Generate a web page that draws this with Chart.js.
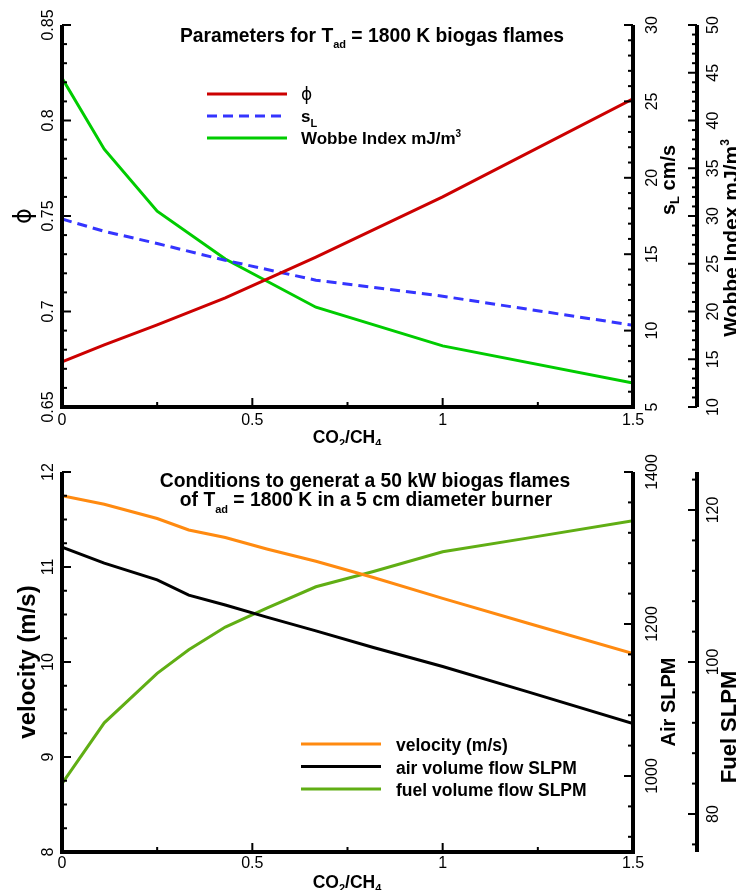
<!DOCTYPE html>
<html>
<head>
<meta charset="utf-8">
<title>Biogas flame parameters</title>
<script src="https://cdn.jsdelivr.net/npm/chart.js@4"></script>
<style>
  html, body { margin: 0; padding: 0; background: #fff; }
  #wrap { position: relative; width: 736px; height: 890px; overflow: hidden; background: #fff; }
  .panel { position: absolute; left: 0; width: 736px; height: 445px; }
</style>
</head>
<body>
<div id="wrap">
  <div class="panel" style="top:0"><canvas id="topPanel" width="736" height="445"></canvas></div>
  <div class="panel" style="top:445px"><canvas id="bottomPanel" width="736" height="445"></canvas></div>
</div>
<script>
// ---- flame parameters at Tad = 1800 K versus CO2/CH4 ratio ----
const ratioTop = [0, 0.111, 0.25, 0.429, 0.667, 1, 1.5];
const phiValues = [0.6736, 0.6825, 0.693, 0.7071, 0.7285, 0.760, 0.8113];
const slValues = [17.3, 16.5, 15.7, 14.6, 13.3, 12.25, 10.35];
const wobbeValues = [44.45, 37.0, 30.5, 25.5, 20.45, 16.4, 12.5];

// ---- 50 kW burner operating conditions versus CO2/CH4 ratio ----
const ratioBottom = [0, 0.111, 0.25, 0.333, 0.429, 0.538, 0.667, 0.818, 1, 1.222, 1.5];
const velocityValues = [11.75, 11.66, 11.51, 11.39, 11.31, 11.19, 11.06, 10.89, 10.67, 10.41, 10.09];
const airValues = [1301, 1280, 1258, 1238, 1225, 1209, 1191, 1169, 1144, 1111, 1069];
const fuelValues = [84.0, 92.0, 98.5, 101.6, 104.6, 107.1, 109.9, 111.9, 114.5, 116.3, 118.6];

// ---- tick labels ----
const ratioTickLabels = ['0', '0.5', '1', '1.5'];
const phiTickLabels = ['0.65', '0.7', '0.75', '0.8', '0.85'];
const slTickLabels = ['5', '10', '15', '20', '25', '30'];
const wobbeTickLabels = ['10', '15', '20', '25', '30', '35', '40', '45', '50'];
const velocityTickLabels = ['8', '9', '10', '11', '12'];
const airTickLabels = ['1000', '1200', '1400'];
const fuelTickLabels = ['80', '100', '120'];

const FONT = '"Liberation Sans", Arial, Helvetica, "DejaVu Sans", sans-serif';
const GREEK = '"DejaVu Sans", sans-serif';
const bold = s => `bold ${s}px ${FONT}`;
const reg = s => `${s}px ${FONT}`;
const AXIS_W = 4, TICK_W = 2, MAJOR = 9, MINOR = 5;

function pairs(xs, ys) { return xs.map((x, i) => ({ x, y: ys[i] })); }

function tickValues(min, max, step) {
  const out = [];
  for (let i = Math.ceil(min / step - 1e-9); i * step <= max + 1e-9; i++) out.push(+(i * step).toFixed(6));
  return out;
}

function line(ctx, x1, y1, x2, y2) {
  ctx.beginPath(); ctx.moveTo(x1, y1); ctx.lineTo(x2, y2); ctx.stroke();
}

// text made of runs with their own font and vertical shift (sub/superscripts)
function drawRich(ctx, parts, x, y, angle, align) {
  ctx.save();
  ctx.translate(x, y);
  if (angle) ctx.rotate(angle * Math.PI / 180);
  ctx.textBaseline = 'alphabetic';
  ctx.textAlign = 'left';
  let total = 0;
  const widths = parts.map(p => { ctx.font = p.f; const w = ctx.measureText(p.t).width; total += w; return w; });
  let cx = align === 'left' ? 0 : -total / 2;
  parts.forEach((p, i) => { ctx.font = p.f; ctx.fillText(p.t, cx, p.dy || 0); cx += widths[i]; });
  ctx.restore();
}

// axis line, inward ticks and rotated tick labels for one scale
function drawAxis(chart, ctx, spec) {
  const sc = chart.scales[spec.id];
  const area = chart.chartArea;
  const majors = spec.labels.map(Number);
  const isMajor = v => majors.some(m => Math.abs(m - v) < spec.step * 1e-3);
  const ticks = tickValues(sc.min, sc.max, spec.step);
  ctx.strokeStyle = '#000';
  ctx.fillStyle = '#000';
  ctx.lineCap = 'butt';
  if (spec.horizontal) {
    const y = area.bottom;
    ctx.lineWidth = AXIS_W;
    line(ctx, area.left - AXIS_W / 2, y, area.right + AXIS_W / 2, y);
    ctx.lineWidth = TICK_W;
    ticks.forEach(v => {
      const x = sc.getPixelForValue(v);
      line(ctx, x, y, x, y - (isMajor(v) ? MAJOR : MINOR));
    });
    ctx.font = reg(16);
    ctx.textAlign = 'center';
    ctx.textBaseline = 'alphabetic';
    spec.labels.forEach(t => ctx.fillText(t, sc.getPixelForValue(Number(t)), y + spec.labelOffset));
  } else {
    const x = spec.side === 'left' ? sc.right : sc.left;
    const dir = spec.side === 'left' ? 1 : -1;
    ctx.lineWidth = AXIS_W;
    line(ctx, x, area.top, x, area.bottom + (spec.join ? AXIS_W / 2 : 0));
    ctx.lineWidth = TICK_W;
    ticks.forEach(v => {
      const y = sc.getPixelForValue(v);
      line(ctx, x, y, x + dir * (isMajor(v) ? MAJOR : MINOR), y);
    });
    spec.labels.forEach(t => {
      drawRich(ctx, [{ t, f: reg(16) }], x + spec.labelOffset, sc.getPixelForValue(Number(t)), -90);
    });
  }
}

function drawLegend(chart, ctx, legend) {
  chart.data.datasets.forEach((ds, i) => {
    const y = legend.y0 + i * legend.dy;
    ctx.save();
    ctx.strokeStyle = ds.borderColor;
    ctx.lineWidth = ds.borderWidth;
    ctx.setLineDash(ds.borderDash || []);
    line(ctx, legend.x0, y, legend.x1, y);
    ctx.restore();
    ctx.fillStyle = '#000';
    drawRich(ctx, legend.entries[i], legend.textX, y + legend.baseline, 0, 'left');
  });
}

function makePainter(axisSpecs, extras) {
  return {
    id: 'panelPainter',
    afterDatasetsDraw(chart) {
      const ctx = chart.ctx;
      ctx.save();
      axisSpecs.forEach(spec => drawAxis(chart, ctx, spec));
      ctx.fillStyle = '#000';
      extras(chart, ctx);
      ctx.restore();
    }
  };
}

function hScale(height) {
  return {
    type: 'linear', position: 'bottom', min: 0, max: 1.5, display: true,
    grid: { display: false, drawTicks: false }, border: { display: false }, ticks: { display: false },
    afterFit: s => { s.height = height; }
  };
}

function vScale(position, min, max, width, weight) {
  return {
    type: 'linear', position, min, max, weight, display: true,
    grid: { display: false, drawTicks: false }, border: { display: false }, ticks: { display: false },
    afterFit: s => { s.width = width; }
  };
}

function lineSet(label, xs, ys, color, axis, dash) {
  return {
    label, data: pairs(xs, ys), yAxisID: axis,
    borderColor: color, backgroundColor: color, borderWidth: 3,
    borderDash: dash || [], pointRadius: 0, tension: 0, fill: false
  };
}

function makeChart(id, datasets, scales, padTop, painter) {
  return new Chart(document.getElementById(id), {
    type: 'line',
    data: { datasets },
    options: {
      responsive: false, animation: false, events: [],
      layout: { padding: { top: padTop, left: 0, right: 0, bottom: 0 } },
      plugins: { legend: { display: false }, tooltip: { enabled: false }, title: { display: false } },
      scales
    },
    plugins: [painter]
  });
}

const ratioTitle = [
  { t: 'CO', f: bold(17.5) }, { t: '2', f: bold(11), dy: 4 },
  { t: '/CH', f: bold(17.5) }, { t: '4', f: bold(11), dy: 4 }
];

// ---------- upper panel ----------
makeChart('topPanel', [
  lineSet('phi', ratioTop, phiValues, '#cc0000', 'yPhi'),
  lineSet('sL', ratioTop, slValues, '#3434ff', 'ySL', [10, 6]),
  lineSet('Wobbe Index', ratioTop, wobbeValues, '#00cc00', 'yWobbe')
], {
  x: hScale(38),
  yPhi: vScale('left', 0.65, 0.85, 62, 0),
  ySL: vScale('right', 5, 30, 64, 0),
  yWobbe: vScale('right', 10, 50, 39, 1)
}, 25, makePainter([
  { id: 'x', horizontal: true, labels: ratioTickLabels, step: 0.25, labelOffset: 18 },
  { id: 'yPhi', side: 'left', labels: phiTickLabels, step: 0.01, labelOffset: -9, join: true },
  { id: 'ySL', side: 'right', labels: slTickLabels, step: 1, labelOffset: 24, join: true },
  { id: 'yWobbe', side: 'right', labels: wobbeTickLabels, step: 1, labelOffset: 21 }
], (chart, ctx) => {
  drawRich(ctx, [
    { t: 'Parameters for T', f: bold(19.3) }, { t: 'ad', f: bold(11) , dy: 6 },
    { t: ' = 1800 K biogas flames', f: bold(19.3) }
  ], 372, 42, 0);
  drawRich(ctx, [{ t: 'ϕ', f: `24px ${GREEK}` }], 31, 216, -90);
  drawRich(ctx, [{ t: 's', f: bold(20) }, { t: 'L', f: bold(13), dy: 4 }, { t: ' cm/s', f: bold(20) }], 675, 180, -90);
  drawRich(ctx, [{ t: 'Wobbe Index mJ/m', f: bold(21) }, { t: '3', f: bold(12), dy: -9 }], 738, 238, -90);
  drawRich(ctx, ratioTitle, 347, 443, 0);
  drawLegend(chart, ctx, {
    x0: 207, x1: 287, y0: 94, dy: 22, textX: 301, baseline: 6,
    entries: [
      [{ t: 'ϕ', f: `17px ${GREEK}` }],
      [{ t: 's', f: bold(17) }, { t: 'L', f: bold(11), dy: 5 }],
      [{ t: 'Wobbe Index mJ/m', f: bold(17) }, { t: '3', f: bold(10), dy: -7 }]
    ]
  });
}));

// ---------- lower panel ----------
makeChart('bottomPanel', [
  lineSet('velocity (m/s)', ratioBottom, velocityValues, '#ff8a10', 'yVel'),
  lineSet('air volume flow SLPM', ratioBottom, airValues, '#000000', 'yAir'),
  lineSet('fuel volume flow SLPM', ratioBottom, fuelValues, '#60ae14', 'yFuel')
], {
  x: hScale(38),
  yVel: vScale('left', 8, 12, 62, 0),
  yAir: vScale('right', 900, 1400, 64, 0),
  yFuel: vScale('right', 75, 125, 39, 1)
}, 27, makePainter([
  { id: 'x', horizontal: true, labels: ratioTickLabels, step: 0.25, labelOffset: 16 },
  { id: 'yVel', side: 'left', labels: velocityTickLabels, step: 0.25, labelOffset: -9, join: true },
  { id: 'yAir', side: 'right', labels: airTickLabels, step: 40, labelOffset: 24, join: true },
  { id: 'yFuel', side: 'right', labels: fuelTickLabels, step: 4, labelOffset: 21 }
], (chart, ctx) => {
  drawRich(ctx, [{ t: 'Conditions to generat a 50 kW biogas flames', f: bold(19.3) }], 365, 42, 0);
  drawRich(ctx, [
    { t: 'of T', f: bold(19.3) }, { t: 'ad', f: bold(11), dy: 7 },
    { t: ' = 1800 K in a 5 cm diameter burner', f: bold(19.3) }
  ], 366, 61, 0);
  drawRich(ctx, [{ t: 'velocity (m/s)', f: bold(24) }], 35, 217, -90);
  drawRich(ctx, [{ t: 'Air SLPM', f: bold(20) }], 675, 257, -90);
  drawRich(ctx, [{ t: 'Fuel SLPM', f: bold(22) }], 736, 282, -90);
  drawRich(ctx, ratioTitle, 347, 443, 0);
  drawLegend(chart, ctx, {
    x0: 301, x1: 381, y0: 299, dy: 22.5, textX: 396, baseline: 7,
    entries: [
      [{ t: 'velocity (m/s)', f: bold(17.5) }],
      [{ t: 'air volume flow SLPM', f: bold(17.5) }],
      [{ t: 'fuel volume flow SLPM', f: bold(17.5) }]
    ]
  });
}));
</script>
</body>
</html>
